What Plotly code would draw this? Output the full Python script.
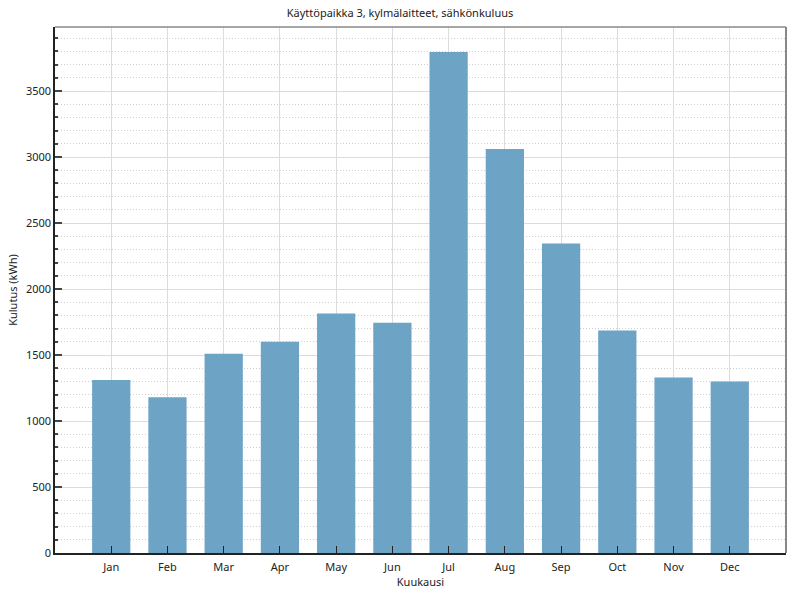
import plotly.graph_objects as go

months = ["Jan", "Feb", "Mar", "Apr", "May", "Jun", "Jul", "Aug", "Sep", "Oct", "Nov", "Dec"]
consumption = [1310, 1180, 1510, 1600, 1815, 1745, 3795, 3060, 2345, 1685, 1330, 1300]
y_ticks = [0, 500, 1000, 1500, 2000, 2500, 3000, 3500]

title_text = "Käyttöpaikka 3, kylmälaitteet, sähkönkuluus"
x_title = "Kuukausi"
y_title = "Kulutus (kWh)"

positions = list(range(len(months)))

fig = go.Figure()
fig.add_trace(go.Bar(
    x=positions,
    y=consumption,
    width=0.68,
    marker=dict(color="#6DA3C4", line=dict(width=0)),
    hoverinfo="y",
))

FONT = "Noto Sans, Open Sans, sans-serif"
fig.update_layout(
    width=800, height=600,
    margin=dict(l=55, r=14, t=27, b=47),
    paper_bgcolor="white",
    plot_bgcolor="white",
    font=dict(family=FONT, size=11, color="#222"),
    title=dict(text=title_text, x=0.5, xanchor="center", y=0.985, yanchor="top",
               font=dict(family=FONT, size=11, color="#222")),
    showlegend=False,
)

fig.update_xaxes(
    range=[-1, 12],
    tickvals=positions,
    ticktext=months,
    ticks="inside", ticklen=7, tickwidth=1, tickcolor="#222",
    ticklabelstandoff=3,
    showgrid=True, gridcolor="#dcdcdc", gridwidth=1,
    showline=True, linecolor="#222", linewidth=1.5,
    zeroline=False,
    automargin=False,
    title=dict(text=x_title, standoff=1, font=dict(family=FONT, size=11, color="#222")),
    tickfont=dict(family=FONT, size=11, color="#222"),
    fixedrange=True,
)

fig.update_yaxes(
    range=[0, 3985],
    tickvals=y_ticks,
    ticks="inside", ticklen=7, tickwidth=1.5, tickcolor="#444",
    showgrid=True, gridcolor="#dcdcdc", gridwidth=1,
    showline=True, linecolor="#222", linewidth=1.5,
    zeroline=False,
    automargin=False,
    minor=dict(dtick=100, ticks="inside", ticklen=3, tickcolor="#444",
               showgrid=True, gridcolor="#cfcfcf", griddash="1px,2px", gridwidth=1),
    title=dict(text=y_title, standoff=6, font=dict(family=FONT, size=11, color="#222")),
    tickfont=dict(family=FONT, size=11, color="#222"),
    fixedrange=True,
)

# top and right frame lines
fig.add_shape(type="line", xref="paper", yref="paper", x0=0, x1=1, y0=1, y1=1,
              line=dict(color="#888888", width=1.5))
fig.add_shape(type="line", xref="paper", yref="paper", x0=1, x1=1, y0=0, y1=1,
              line=dict(color="#888888", width=2))

fig.write_html("out.html")
